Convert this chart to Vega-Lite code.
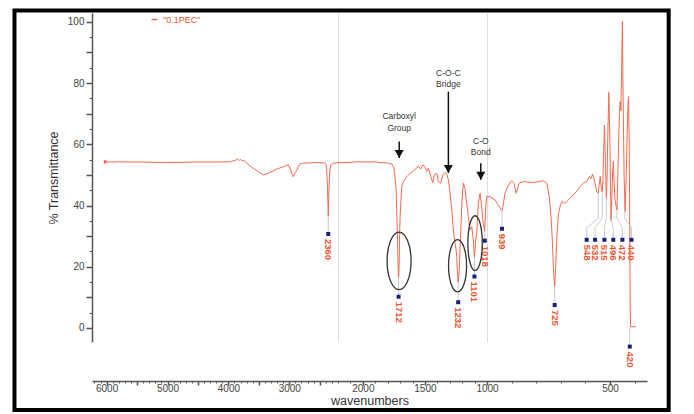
{
  "$schema": "https://vega.github.io/schema/vega-lite/v6.json",
  "width": 555,
  "height": 329,
  "autosize": {"type": "none"},
  "padding": {"left": 92, "top": 13, "right": 47, "bottom": 72},
  "background": "white",
  "config": {
    "view": {"stroke": null},
    "font": "Liberation Sans",
    "axis": {"domainColor": "#555", "tickColor": "#555", "labelColor": "#444", "titleColor": "#333", "labelFont": "Liberation Sans", "titleFont": "Liberation Sans", "titleFontWeight": "normal"}
  },
  "datasets": {
    "spectrum": [
      {"wn": 6043, "t": 54.6}, {"wn": 6035, "t": 53.7}, {"wn": 6028, "t": 54.9}, {"wn": 6020, "t": 53.9}, {"wn": 6012, "t": 54.7},
      {"wn": 6004, "t": 54.0}, {"wn": 5995, "t": 54.4}, {"wn": 5985, "t": 54.1}, {"wn": 5960, "t": 54.3}, {"wn": 5900, "t": 54.2},
      {"wn": 5800, "t": 54.3}, {"wn": 5600, "t": 54.2}, {"wn": 5400, "t": 54.2}, {"wn": 5200, "t": 54.1}, {"wn": 5000, "t": 54.1},
      {"wn": 4800, "t": 54.1}, {"wn": 4600, "t": 54.2}, {"wn": 4400, "t": 54.2}, {"wn": 4200, "t": 54.2}, {"wn": 4000, "t": 54.3},
      {"wn": 3960, "t": 54.4}, {"wn": 3920, "t": 54.6}, {"wn": 3880, "t": 54.8}, {"wn": 3850, "t": 55.2}, {"wn": 3820, "t": 54.7},
      {"wn": 3800, "t": 55.1}, {"wn": 3770, "t": 54.5}, {"wn": 3750, "t": 54.9}, {"wn": 3720, "t": 54.2}, {"wn": 3700, "t": 54.0},
      {"wn": 3680, "t": 53.4}, {"wn": 3646, "t": 52.9}, {"wn": 3620, "t": 52.5}, {"wn": 3591, "t": 52.2}, {"wn": 3509, "t": 51.1},
      {"wn": 3427, "t": 50.0}, {"wn": 3370, "t": 50.3}, {"wn": 3317, "t": 50.8}, {"wn": 3207, "t": 51.9}, {"wn": 3098, "t": 52.7},
      {"wn": 3016, "t": 53.3}, {"wn": 2989, "t": 52.2}, {"wn": 2961, "t": 50.5}, {"wn": 2934, "t": 49.4}, {"wn": 2920, "t": 50.3},
      {"wn": 2907, "t": 50.5}, {"wn": 2879, "t": 51.4}, {"wn": 2852, "t": 52.7}, {"wn": 2825, "t": 53.6}, {"wn": 2770, "t": 53.8},
      {"wn": 2600, "t": 54.0}, {"wn": 2496, "t": 54.0}, {"wn": 2420, "t": 53.9}, {"wn": 2398, "t": 53.6}, {"wn": 2385, "t": 51.5},
      {"wn": 2372, "t": 46.0}, {"wn": 2364, "t": 40.0}, {"wn": 2360, "t": 36.5}, {"wn": 2356, "t": 40.0}, {"wn": 2348, "t": 46.0},
      {"wn": 2335, "t": 51.5}, {"wn": 2316, "t": 53.2}, {"wn": 2278, "t": 53.8}, {"wn": 2200, "t": 54.0}, {"wn": 2100, "t": 54.1},
      {"wn": 2050, "t": 54.3}, {"wn": 1950, "t": 54.2}, {"wn": 1900, "t": 54.3}, {"wn": 1861, "t": 54.0}, {"wn": 1800, "t": 53.9},
      {"wn": 1767, "t": 53.6}, {"wn": 1749, "t": 52.2}, {"wn": 1740, "t": 49.0}, {"wn": 1732, "t": 45.1}, {"wn": 1722, "t": 31.0},
      {"wn": 1714, "t": 17.0}, {"wn": 1712, "t": 16.5}, {"wn": 1708, "t": 20.0}, {"wn": 1704, "t": 30.0}, {"wn": 1700, "t": 36.4},
      {"wn": 1687, "t": 46.2}, {"wn": 1674, "t": 47.8}, {"wn": 1646, "t": 49.4}, {"wn": 1620, "t": 50.5}, {"wn": 1593, "t": 51.4},
      {"wn": 1566, "t": 52.2}, {"wn": 1553, "t": 52.9}, {"wn": 1534, "t": 51.9}, {"wn": 1517, "t": 53.3}, {"wn": 1499, "t": 52.7},
      {"wn": 1486, "t": 51.1}, {"wn": 1472, "t": 52.2}, {"wn": 1453, "t": 49.5}, {"wn": 1437, "t": 47.5}, {"wn": 1424, "t": 50.0},
      {"wn": 1404, "t": 50.5}, {"wn": 1391, "t": 47.8}, {"wn": 1372, "t": 47.3}, {"wn": 1356, "t": 50.0}, {"wn": 1338, "t": 50.8},
      {"wn": 1324, "t": 50.3}, {"wn": 1311, "t": 48.4}, {"wn": 1297, "t": 44.0}, {"wn": 1284, "t": 38.6}, {"wn": 1271, "t": 32.0},
      {"wn": 1257, "t": 27.7}, {"wn": 1249, "t": 25.5}, {"wn": 1244, "t": 23.3}, {"wn": 1239, "t": 19.0}, {"wn": 1232, "t": 15.0},
      {"wn": 1223, "t": 19.0}, {"wn": 1218, "t": 25.5}, {"wn": 1209, "t": 34.2}, {"wn": 1201, "t": 41.8}, {"wn": 1191, "t": 47.3},
      {"wn": 1177, "t": 45.6}, {"wn": 1164, "t": 40.7}, {"wn": 1150, "t": 36.4}, {"wn": 1137, "t": 32.0}, {"wn": 1123, "t": 33.1},
      {"wn": 1110, "t": 28.8}, {"wn": 1101, "t": 23.0}, {"wn": 1090, "t": 29.0}, {"wn": 1083, "t": 30.9}, {"wn": 1070, "t": 40.7},
      {"wn": 1056, "t": 44.0}, {"wn": 1043, "t": 39.7}, {"wn": 1030, "t": 34.0}, {"wn": 1018, "t": 31.5}, {"wn": 1010, "t": 40.0},
      {"wn": 1002, "t": 42.9}, {"wn": 988, "t": 42.9}, {"wn": 967, "t": 41.8}, {"wn": 954, "t": 40.2}, {"wn": 944, "t": 38.8},
      {"wn": 939, "t": 38.3}, {"wn": 934, "t": 40.2}, {"wn": 927, "t": 44.0}, {"wn": 913, "t": 46.7}, {"wn": 900, "t": 48.1},
      {"wn": 890, "t": 47.3}, {"wn": 882, "t": 44.0}, {"wn": 877, "t": 45.1}, {"wn": 869, "t": 47.3}, {"wn": 852, "t": 47.8},
      {"wn": 812, "t": 47.5}, {"wn": 771, "t": 48.1}, {"wn": 757, "t": 47.3}, {"wn": 747, "t": 42.9}, {"wn": 740, "t": 36.4},
      {"wn": 734, "t": 27.7}, {"wn": 730, "t": 19.0}, {"wn": 725, "t": 13.5}, {"wn": 721, "t": 20.0}, {"wn": 716, "t": 30.0},
      {"wn": 710, "t": 37.0}, {"wn": 703, "t": 39.7}, {"wn": 696, "t": 41.3}, {"wn": 683, "t": 40.7}, {"wn": 669, "t": 41.8},
      {"wn": 649, "t": 43.5}, {"wn": 636, "t": 44.6}, {"wn": 622, "t": 46.2}, {"wn": 608, "t": 47.3}, {"wn": 595, "t": 47.8},
      {"wn": 584, "t": 49.5}, {"wn": 578, "t": 48.8}, {"wn": 571, "t": 50.3}, {"wn": 561, "t": 47.3}, {"wn": 554, "t": 44.6},
      {"wn": 548, "t": 44.0}, {"wn": 544, "t": 47.0}, {"wn": 540, "t": 49.5}, {"wn": 536, "t": 46.0}, {"wn": 532, "t": 44.5},
      {"wn": 529, "t": 48.0}, {"wn": 526, "t": 58.0}, {"wn": 523, "t": 66.3}, {"wn": 520, "t": 58.0}, {"wn": 517, "t": 48.0},
      {"wn": 515, "t": 42.5}, {"wn": 512, "t": 50.0}, {"wn": 509, "t": 64.0}, {"wn": 505, "t": 77.0}, {"wn": 501, "t": 62.0},
      {"wn": 498, "t": 45.0}, {"wn": 496, "t": 35.0}, {"wn": 493, "t": 42.0}, {"wn": 490, "t": 50.0}, {"wn": 487, "t": 54.4},
      {"wn": 484, "t": 48.0}, {"wn": 480, "t": 42.0}, {"wn": 476, "t": 40.0}, {"wn": 472, "t": 38.5}, {"wn": 468, "t": 52.0},
      {"wn": 462, "t": 70.0}, {"wn": 459, "t": 74.0}, {"wn": 456, "t": 71.0}, {"wn": 453, "t": 85.0}, {"wn": 450, "t": 100.2},
      {"wn": 447, "t": 75.0}, {"wn": 443, "t": 50.0}, {"wn": 439, "t": 38.0}, {"wn": 435, "t": 48.0}, {"wn": 431, "t": 62.0},
      {"wn": 428, "t": 72.0}, {"wn": 425, "t": 75.6}, {"wn": 422, "t": 60.0}, {"wn": 420, "t": 30.0}, {"wn": 418, "t": 5.0},
      {"wn": 417, "t": 0.4}, {"wn": 394, "t": 0.4}
    ],
    "peaks": [
      {"wn": 2360, "t": 36.5, "b1": 30.7, "lw": 2360, "b2": 30.7, "my": 30.7, "label": "2360"},
      {"wn": 1712, "t": 16.5, "b1": 10.2, "lw": 1712, "b2": 10.2, "my": 10.2, "label": "1712"},
      {"wn": 1232, "t": 15.0, "b1": 8.4, "lw": 1232, "b2": 8.4, "my": 8.4, "label": "1232"},
      {"wn": 1101, "t": 23.0, "b1": 16.8, "lw": 1101, "b2": 16.8, "my": 16.8, "label": "1101"},
      {"wn": 1018, "t": 31.5, "b1": 28.5, "lw": 1018, "b2": 28.5, "my": 28.5, "label": "1018"},
      {"wn": 939, "t": 38.3, "b1": 32.4, "lw": 939, "b2": 32.4, "my": 32.4, "label": "939"},
      {"wn": 725, "t": 13.5, "b1": 7.5, "lw": 725, "b2": 7.5, "my": 7.5, "label": "725"},
      {"wn": 548, "t": 44.0, "b1": 35.8, "lw": 595, "b2": 32.7, "my": 28.8, "label": "548"},
      {"wn": 532, "t": 44.5, "b1": 35.8, "lw": 561, "b2": 32.7, "my": 28.8, "label": "532"},
      {"wn": 515, "t": 42.5, "b1": 35.8, "lw": 523, "b2": 32.7, "my": 28.8, "label": "515"},
      {"wn": 496, "t": 35.8, "b1": 35.8, "lw": 487, "b2": 32.7, "my": 28.8, "label": "496"},
      {"wn": 472, "t": 38.5, "b1": 35.8, "lw": 450, "b2": 32.7, "my": 28.8, "label": "472"},
      {"wn": 440, "t": 38.0, "b1": 35.8, "lw": 413, "b2": 32.7, "my": 28.8, "label": "440"},
      {"wn": 420, "t": 0.4, "b1": -6.1, "lw": 420, "b2": -6.1, "my": -6.1, "label": "420"}
    ],
    "ellipses": [
      {"wn": 1708, "yc": 21.9, "band": 193, "kind": "a"},
      {"wn": 1237, "yc": 20.3, "band": 145, "kind": "b"},
      {"wn": 1096, "yc": 27.7, "band": 116, "kind": "c"}
    ],
    "notes": [
      {"x": 1707, "y": 69.3, "text": "Carboxyl"},
      {"x": 1707, "y": 65.4, "text": "Group"},
      {"x": 1311, "y": 83.4, "text": "C-O-C"},
      {"x": 1311, "y": 79.7, "text": "Bridge"},
      {"x": 1050, "y": 61.1, "text": "C-O"},
      {"x": 1050, "y": 57.6, "text": "Bond"}
    ],
    "arrows": [
      {"x": 1707, "y1": 60.9, "y2": 55.5},
      {"x": 1311, "y1": 77.2, "y2": 50.6},
      {"x": 1050, "y1": 53.8, "y2": 48.4}
    ]
  },
  "layer": [
    {
      "data": {"name": "spectrum"},
      "mark": {"type": "line", "strokeWidth": 1, "interpolate": "linear"},
      "encoding": {
        "x": {
          "field": "wn", "type": "quantitative",
          "scale": {"domain": [6240, 2200, 1000, 350], "range": [0, 246, 395, 555], "nice": false, "zero": false},
          "axis": {
            "title": "wavenumbers", "titleFontSize": 12.5, "titlePadding": 1, "offset": 39, "tickCount": 500,
            "values": [6200,6100,6000,5900,5800,5700,5600,5500,5400,5300,5200,5100,5000,4900,4800,4700,4600,4500,4400,4300,4200,4100,4000,3900,3800,3700,3600,3500,3400,3300,3200,3100,3000,2900,2800,2700,2600,2500,2400,2300,2200,2100,2000,1900,1800,1700,1600,1500,1400,1300,1200,1100,1000,900,800,700,600,500,400],
            "format": "d",
            "labelExpr": "indexof([6000,5000,4000,3000,2000,1500,1000,500], datum.value) >= 0 ? datum.label : ''",
            "labelFontSize": 10, "labelPadding": -2, "labelFlush": false, "labelOverlap": false,
            "tickSize": {"condition": {"test": "indexof([6000,5500,5000,4500,4000,3500,3000,2500,2000,1500,1000,500], datum.value) >= 0", "value": 4}, "value": 2},
            "tickWidth": {"condition": {"test": "indexof([6000,5500,5000,4500,4000,3500,3000,2500,2000,1500,1000,500], datum.value) >= 0", "value": 1.5}, "value": 1},
            "domainWidth": 1.5,
            "grid": true, "gridColor": "#dcdcdc", "gridWidth": 1,
            "gridOpacity": {"condition": {"test": "datum.value === 2200 || datum.value === 1000", "value": 1}, "value": 0}
          }
        },
        "y": {
          "field": "t", "type": "quantitative",
          "scale": {"domain": [-4.6, 102.9], "nice": false, "zero": false},
          "axis": {
            "title": "% Transmittance", "titleFontSize": 12.5, "titlePadding": 7, "tickCount": 500, "format": "d",
            "values": [0,5,10,15,20,25,30,35,40,45,50,55,60,65,70,75,80,85,90,95,100],
            "labelExpr": "datum.value % 20 === 0 ? datum.label : ''",
            "labelFontSize": 10, "labelPadding": 2, "labelOverlap": false,
            "tickSize": {"condition": {"test": "datum.value % 10 === 0", "value": 6}, "value": 3},
            "tickWidth": {"condition": {"test": "datum.value % 10 === 0", "value": 1.5}, "value": 1},
            "domainWidth": 1.5, "grid": false
          }
        },
        "color": {
          "datum": "\"0.1PEC\"", "type": "nominal",
          "scale": {"range": ["#f46a4e"]},
          "legend": {"orient": "none", "legendX": 58, "legendY": 2, "title": null, "symbolType": "stroke", "symbolSize": 36, "symbolStrokeWidth": 1.5, "labelColor": "#f0522f", "labelFontSize": 9, "padding": 0, "labelOffset": 4}
        }
      }
    },
    {
      "data": {"name": "peaks"},
      "mark": {"type": "rule", "color": "#c6c9d8", "strokeWidth": 1},
      "encoding": {"x": {"field": "wn", "type": "quantitative"}, "y": {"field": "t", "type": "quantitative"}, "y2": {"field": "b1"}}
    },
    {
      "data": {"name": "peaks"},
      "mark": {"type": "rule", "color": "#c6c9d8", "strokeWidth": 1},
      "encoding": {"x": {"field": "wn", "type": "quantitative"}, "y": {"field": "b1", "type": "quantitative"}, "x2": {"field": "lw"}, "y2": {"field": "b2"}}
    },
    {
      "data": {"name": "peaks"},
      "mark": {"type": "rule", "color": "#c6c9d8", "strokeWidth": 1},
      "encoding": {"x": {"field": "lw", "type": "quantitative"}, "y": {"field": "b2", "type": "quantitative"}, "y2": {"field": "my"}}
    },
    {
      "data": {"name": "peaks"},
      "mark": {"type": "point", "shape": "square", "filled": true, "color": "#1a1f7a", "size": 16, "opacity": 1},
      "encoding": {"x": {"field": "lw", "type": "quantitative"}, "y": {"field": "my", "type": "quantitative"}}
    },
    {
      "data": {"name": "peaks"},
      "mark": {"type": "text", "angle": 90, "align": "left", "baseline": "middle", "dx": 5, "fontSize": 9.5, "fontWeight": "bold", "color": "#f0522f", "font": "Liberation Sans"},
      "encoding": {"x": {"field": "lw", "type": "quantitative"}, "y": {"field": "my", "type": "quantitative"}, "text": {"field": "label"}}
    },
    {
      "data": {"name": "ellipses"},
      "mark": {"type": "point", "filled": false, "stroke": "#333", "strokeWidth": 1.3, "opacity": 1},
      "encoding": {
        "x": {"field": "wn", "type": "quantitative"},
        "y": {"field": "yc", "type": "quantitative"},
        "shape": {"field": "kind", "type": "nominal", "legend": null, "scale": {"domain": ["a", "b", "c"], "range": ["M0,-2.4A1,2.4 0 1,1 0,2.4A1,2.4 0 1,1 0,-2.4Z", "M0,-2.9A1,2.9 0 1,1 0,2.9A1,2.9 0 1,1 0,-2.9Z", "M0,-3.8A1,3.8 0 1,1 0,3.8A1,3.8 0 1,1 0,-3.8Z"]}},
        "size": {"field": "band", "type": "quantitative", "legend": null, "scale": {"type": "pow", "exponent": 2, "domain": [0, 193], "range": [0, 576], "zero": true}}
      }
    },
    {
      "data": {"name": "arrows"},
      "mark": {"type": "rule", "color": "#111", "strokeWidth": 1.5},
      "encoding": {"x": {"field": "x", "type": "quantitative"}, "y": {"field": "y1", "type": "quantitative"}, "y2": {"field": "y2"}}
    },
    {
      "data": {"name": "arrows"},
      "mark": {"type": "point", "shape": "M0,0L-1,-1.8L1,-1.8Z", "filled": true, "color": "#111", "size": 81, "opacity": 1},
      "encoding": {"x": {"field": "x", "type": "quantitative"}, "y": {"field": "y2", "type": "quantitative"}}
    },
    {
      "data": {"name": "notes"},
      "mark": {"type": "text", "align": "center", "baseline": "middle", "fontSize": 8.5, "color": "#333", "font": "Liberation Sans"},
      "encoding": {"x": {"field": "x", "type": "quantitative"}, "y": {"field": "y", "type": "quantitative"}, "text": {"field": "text"}}
    },
    {
      "data": {"values": [{}]},
      "mark": {"type": "rect", "fillOpacity": 0, "stroke": "#000", "strokeWidth": 4},
      "encoding": {
        "x": {"datum": 7513, "type": "quantitative"},
        "x2": {"datum": 262},
        "y": {"datum": 103.7, "type": "quantitative"},
        "y2": {"datum": -26.8}
      }
    }
  ]
}
